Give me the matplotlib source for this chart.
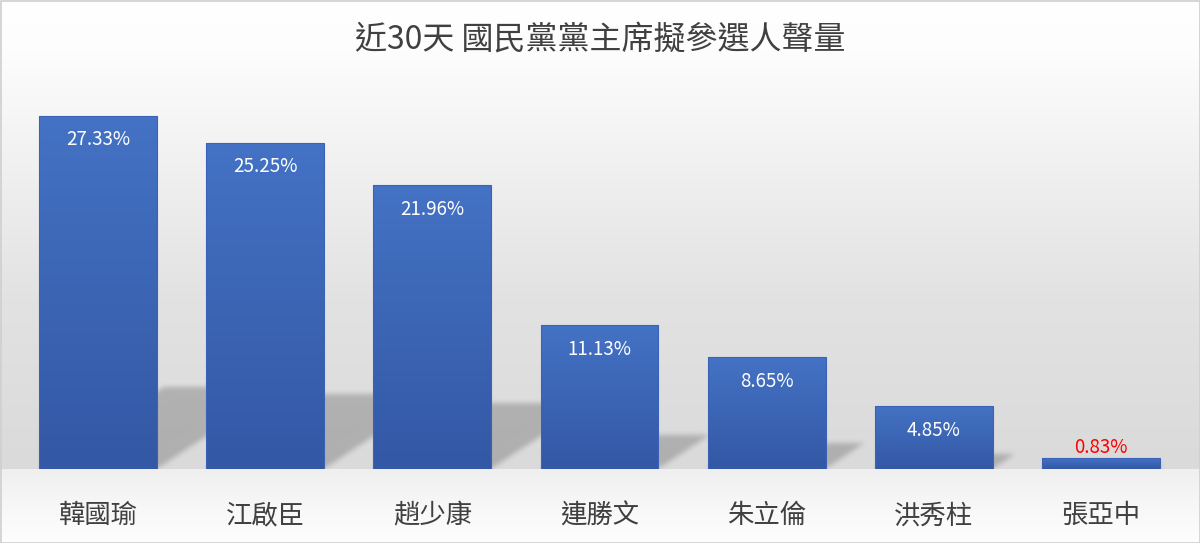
import numpy as np
import matplotlib
matplotlib.use("Agg")
import matplotlib.pyplot as plt
from matplotlib.patches import Rectangle

plt.rcParams['font.family'] = ['Noto Sans CJK TC', 'DejaVu Sans']

title = "近30天 國民黨黨主席擬參選人聲量"
candidates = ["韓國瑜", "江啟臣", "趙少康", "連勝文", "朱立倫", "洪秀柱", "張亞中"]
shares = [27.33, 25.25, 21.96, 11.13, 8.65, 4.85, 0.83]
labels_outside = [False, False, False, False, False, False, True]

W, H, DPI = 1200, 543, 100
fig = plt.figure(figsize=(W / DPI, H / DPI), dpi=DPI)

# background gradient: white at top -> grey at the floor, light floor below
bg_ax = fig.add_axes([0, 0, 1, 1], zorder=-10)
rows = np.arange(H)
shade = np.where(rows < 469,
                 np.interp(rows, [0, 50, 300, 469], [255, 253, 226, 218]),
                 np.interp(rows, [469, 500, 543], [239, 246, 254]))
bg = np.repeat(shade[:, None], 4, axis=1) / 255.0
bg_ax.imshow(np.dstack([bg, bg, bg]), aspect='auto', extent=[0, 1, 0, 1], interpolation='bilinear')
bg_ax.set_axis_off()

ymax = 30
ax = fig.add_axes([14.4 / W, 74 / H, 1170.2 / W, 387.6 / H])
ax.set_xlim(-0.5, len(candidates) - 0.5)
ax.set_ylim(0, ymax)
ax.patch.set_alpha(0)
for s in ax.spines.values():
    s.set_visible(False)
ax.set_yticks([])
ax.set_xticks(range(len(candidates)))
ax.set_xticklabels(candidates, fontsize=19, color='#404040')
ax.tick_params(axis='x', length=0, pad=24)

bar_w = 0.705

# blurred perspective shadows, cast back and to the right
nx, ny = 1170, 388
gx = np.linspace(-0.5, len(candidates) - 0.5, nx)
gy = np.linspace(0, ymax, ny)
X, Y = np.meshgrid(gx, gy)
mask = np.zeros_like(X)
for i, v in enumerate(shares):
    hs = 0.23 * v
    dx = 0.118 * hs
    t = np.clip(Y / max(hs, 1e-6), 0, 1)
    left = i - bar_w / 2 + dx * t
    right = i + bar_w / 2 + dx * t
    inside = (Y <= hs) & (X >= left) & (X <= right)
    mask = np.maximum(mask, inside.astype(float))
k = np.exp(-0.5 * (np.arange(-10, 11) / 2.5) ** 2)
k /= k.sum()
mask = np.apply_along_axis(lambda r: np.convolve(r, k, mode='same'), 1, mask)
mask = np.apply_along_axis(lambda c: np.convolve(c, k, mode='same'), 0, mask)
shadow = np.zeros((ny, nx, 4))
shadow[..., 3] = mask * 0.2
ax.imshow(shadow, origin='lower', aspect='auto',
          extent=[-0.5, len(candidates) - 0.5, 0, ymax], zorder=1, interpolation='bilinear')

# bars with vertical gradient
grad_top = np.array([0x44, 0x72, 0xc4]) / 255
grad_bot = np.array([0x33, 0x58, 0xa5]) / 255
tt = np.linspace(0, 1, 100)[:, None]
grad = grad_bot[None, :] * (1 - tt) + grad_top[None, :] * tt
grad = grad[:, None, :]
bars = ax.bar(range(len(candidates)), shares, width=bar_w, color='none',
              edgecolor='#3a63b8', linewidth=0.8, zorder=3)
for b in bars:
    x0, y0 = b.get_x(), b.get_y()
    im = ax.imshow(grad, origin='lower', aspect='auto', zorder=2,
                   extent=[x0, x0 + b.get_width(), y0, y0 + b.get_height()])
    im.set_clip_path(b)
ax.set_xlim(-0.5, len(candidates) - 0.5)
ax.set_ylim(0, ymax)

for i, (v, out) in enumerate(zip(shares, labels_outside)):
    if out:
        ax.annotate(f"{v:.2f}%", (i, v), xytext=(0, 11), textcoords='offset pixels',
                    ha='center', va='center', fontsize=13.5, color='#ff0000', zorder=4)
    else:
        ax.annotate(f"{v:.2f}%", (i, v), xytext=(0, -24), textcoords='offset pixels',
                    ha='center', va='center', fontsize=13.5, color='white', zorder=4)

fig.text(0.5, 1 - 40 / H, title, ha='center', va='center', fontsize=23, color='#404040')

fig.patches.append(Rectangle((0.5 / W, 0.5 / H), 1 - 1 / W, 1 - 1 / H, transform=fig.transFigure,
                             fill=False, edgecolor='#cfcfcf', linewidth=1.2, zorder=20))

fig.savefig("out.png", dpi=DPI)
